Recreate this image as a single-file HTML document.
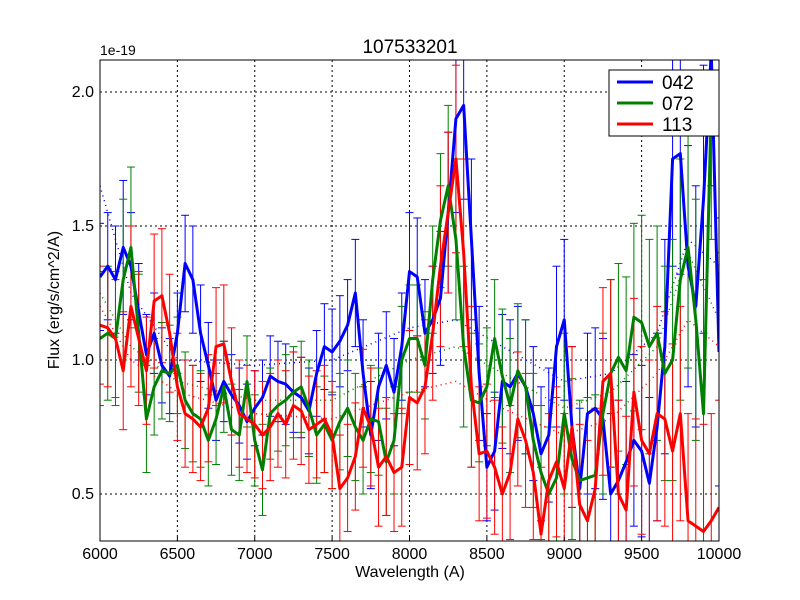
<!DOCTYPE html>
<html><head><meta charset="utf-8"><style>
html,body{margin:0;padding:0;width:800px;height:600px;background:#fff;font-family:"Liberation Sans","DejaVu Sans",sans-serif;overflow:hidden}
</style></head><body>
<svg id="chart" width="800" height="600" xmlns="http://www.w3.org/2000/svg" font-family="Liberation Sans, DejaVu Sans, sans-serif" style="display:block">
<rect width="800" height="600" fill="#fff"/>
<g id="grid"></g>
<g id="plot"></g>
<rect x="100" y="60" width="619" height="481" fill="none" stroke="#000" stroke-width="1"/>
<g id="ticks"></g>
<text x="410" y="53" font-size="19" text-anchor="middle">107533201</text>
<text x="100" y="55" font-size="14">1e-19</text>
<text x="410" y="577" font-size="16" text-anchor="middle">Wavelength (A)</text>
<text transform="translate(59,300) rotate(-90)" font-size="16" text-anchor="middle">Flux (erg/s/cm^2/A)</text>
<g>
<rect x="609" y="70" width="110" height="66" fill="#fff" stroke="#000"/>
<g><line x1="617" y1="82" x2="653" y2="82" stroke="#0000ff" stroke-width="3"/><text x="662" y="89" font-size="19">042</text></g>
<g><line x1="617" y1="103" x2="653" y2="103" stroke="#008000" stroke-width="3"/><text x="662" y="110" font-size="19">072</text></g>
<g><line x1="617" y1="124" x2="653" y2="124" stroke="#ff0000" stroke-width="3"/><text x="662" y="131" font-size="19">113</text></g>
</g>
</svg>
<script>
const xTicks=[6000,6500,7000,7500,8000,8500,9000,9500,10000];
const yTicks=[0.5,1.0,1.5,2.0];
const yTickLabels=["0.5","1.0","1.5","2.0"];
const s042=[1.31,1.35,1.30,1.42,1.35,1.18,1.02,1.10,0.98,0.94,1.10,1.36,1.30,1.10,0.98,0.85,0.92,0.87,0.83,0.77,0.82,0.86,0.94,0.92,0.91,0.88,0.86,0.81,0.95,1.05,1.03,1.07,1.13,1.25,0.95,0.72,0.90,0.98,0.88,1.05,1.33,1.31,1.10,1.15,1.23,1.55,1.90,1.95,1.45,0.95,0.60,0.66,0.92,0.90,0.95,0.90,0.80,0.65,0.72,1.05,1.15,0.75,0.52,0.80,0.82,0.78,0.50,0.55,0.62,0.70,0.66,0.54,0.75,1.05,1.75,1.77,1.35,1.20,1.60,2.15,1.03];
const s072=[1.08,1.10,1.08,1.30,1.42,1.10,0.78,0.90,0.96,0.95,0.98,0.85,0.80,0.78,0.70,0.78,0.90,0.74,0.72,0.92,0.70,0.59,0.80,0.83,0.85,0.88,0.90,0.82,0.72,0.76,0.70,0.77,0.82,0.75,0.70,0.78,0.77,0.62,0.70,1.00,1.08,1.08,0.98,1.30,1.52,1.65,1.45,1.05,0.85,0.84,0.90,1.08,0.94,0.83,0.96,0.90,0.70,0.58,0.50,0.56,0.80,0.63,0.55,0.56,0.57,0.80,0.95,1.01,0.96,1.16,1.14,1.05,1.10,0.95,1.00,1.30,1.42,1.15,0.80,1.95,1.90];
const s113=[1.13,1.12,1.08,0.96,1.20,1.08,0.96,1.22,1.24,1.10,0.90,0.80,0.78,0.75,0.82,1.05,1.06,0.92,0.80,0.78,0.76,0.72,0.75,0.80,0.76,0.83,0.81,0.74,0.76,0.78,0.72,0.52,0.56,0.64,0.82,0.75,0.60,0.64,0.58,0.60,0.86,0.84,0.90,1.10,1.35,1.55,1.75,1.40,0.90,0.65,0.66,0.60,0.50,0.58,0.78,0.70,0.58,0.35,0.55,0.62,0.52,0.75,0.46,0.40,0.52,0.92,0.95,0.50,0.44,0.88,0.70,0.65,0.80,0.78,0.66,0.80,0.40,0.38,0.36,0.40,0.45];
const e042=[0.2,0.2,0.2,0.25,0.2,0.18,0.15,0.15,0.14,0.14,0.15,0.18,0.2,0.18,0.16,0.15,0.15,0.15,0.14,0.14,0.14,0.14,0.15,0.15,0.15,0.15,0.15,0.16,0.16,0.16,0.16,0.17,0.17,0.2,0.2,0.2,0.2,0.2,0.2,0.2,0.22,0.22,0.2,0.2,0.25,0.3,0.35,0.35,0.3,0.25,0.2,0.22,0.25,0.25,0.25,0.25,0.25,0.25,0.25,0.3,0.3,0.3,0.3,0.3,0.3,0.3,0.3,0.3,0.3,0.32,0.32,0.32,0.35,0.4,0.4,0.45,0.45,0.45,0.5,0.5,0.5];
const e072=[0.25,0.25,0.25,0.3,0.3,0.22,0.2,0.18,0.18,0.18,0.18,0.18,0.18,0.18,0.17,0.17,0.17,0.17,0.17,0.17,0.17,0.17,0.17,0.17,0.17,0.17,0.17,0.18,0.18,0.18,0.18,0.18,0.18,0.2,0.2,0.2,0.2,0.2,0.2,0.2,0.2,0.2,0.2,0.2,0.25,0.3,0.3,0.3,0.25,0.22,0.22,0.22,0.25,0.25,0.25,0.25,0.25,0.25,0.25,0.3,0.3,0.3,0.3,0.3,0.3,0.3,0.35,0.35,0.35,0.35,0.4,0.4,0.4,0.4,0.45,0.45,0.45,0.45,0.5,0.5,0.5];
const e113=[0.22,0.22,0.22,0.22,0.3,0.25,0.2,0.25,0.25,0.22,0.2,0.2,0.2,0.2,0.2,0.22,0.22,0.2,0.2,0.2,0.2,0.2,0.2,0.2,0.2,0.2,0.2,0.2,0.2,0.2,0.2,0.2,0.2,0.2,0.22,0.22,0.22,0.22,0.22,0.22,0.25,0.25,0.25,0.25,0.3,0.3,0.35,0.35,0.3,0.25,0.25,0.25,0.25,0.25,0.25,0.25,0.25,0.25,0.25,0.28,0.28,0.3,0.3,0.3,0.3,0.35,0.35,0.35,0.35,0.35,0.35,0.35,0.4,0.4,0.4,0.4,0.4,0.4,0.4,0.4,0.4];
const mWave=[6000,6200,6500,7000,7500,8000,8300,8600,9000,9300,9600,9800,10000];
const m042=[1.65,1.25,1.0,0.98,1.0,1.12,1.15,1.05,0.92,0.95,1.1,1.45,1.35];
const m072=[1.25,1.05,0.92,0.85,0.85,1.0,1.05,0.95,0.82,0.88,1.05,1.4,1.15];
const m113=[1.20,1.0,0.88,0.8,0.78,0.88,0.92,0.82,0.72,0.78,0.95,1.15,1.05];

const NS='http://www.w3.org/2000/svg';
const X0=100,X1=719,Y0=60,Y1=541;
function xs(w){return X0+(w-6000)/4000*(X1-X0);}
function ys(v){return 628-v*268;}
function mk(tag,attrs,parent){const e=document.createElementNS(NS,tag);for(const k in attrs)e.setAttribute(k,attrs[k]);parent.appendChild(e);return e;}
const grid=document.getElementById('grid'),ticks=document.getElementById('ticks'),plot=document.getElementById('plot');
xTicks.forEach(t=>{const x=xs(t);
 if(t>6000&&t<10000){const g=mk('line',{x1:x,y1:Y0,x2:x,y2:Y1,stroke:'#000','stroke-dasharray':'2,3','stroke-width':1},grid);
 
 }
 const tl=mk('line',{x1:x,y1:Y1,x2:x,y2:Y1-4,stroke:'#000'},ticks);
 
 
 const tx=mk('text',{x:x,y:Y1+18,'font-size':16,'text-anchor':'middle'},ticks);tx.textContent=String(t);
 
 
});
yTicks.forEach((t,i)=>{const y=ys(t);
 const g=mk('line',{x1:X0,y1:y,x2:X1,y2:y,stroke:'#000','stroke-dasharray':'2,3','stroke-width':1},grid);
 
 
 const tx=mk('text',{x:X0-6,y:y+5,'font-size':16,'text-anchor':'end'},ticks);tx.textContent=yTickLabels[i];
 
 
});
const clip=mk('clipPath',{id:'cp'},mk('defs',{},plot));mk('rect',{x:X0,y:Y0,width:X1-X0,height:Y1-Y0},clip);
const area=mk('g',{'clip-path':'url(#cp)'},plot);
const series=[['042',s042,e042,m042,'#0000ff'],['072',s072,e072,m072,'#008000'],['113',s113,e113,m113,'#ff0000']];
series.forEach(([nm,v,e,m,c])=>{
 const n=v.length,step=4000/(n-1);
 const mp=mk('polyline',{points:mWave.map((w,i)=>xs(w)+','+ys(m[i])).join(' '),fill:'none',stroke:c,'stroke-width':1.5,'stroke-dasharray':'1,4'},area);
 
 
 const eg=mk('g',{stroke:c,'stroke-width':1},area);
 
 
 v.forEach((val,i)=>{const x=xs(6000+i*step),err=e[i]||0.2,yt=ys(val+err),yb=ys(val-err);
  mk('line',{x1:x,y1:yt,x2:x,y2:yb},eg);mk('line',{x1:x-4,y1:yt,x2:x+4,y2:yt},eg);mk('line',{x1:x-4,y1:yb,x2:x+4,y2:yb},eg);});
});
series.forEach(([nm,v,e,m,c])=>{
 const n=v.length,step=4000/(n-1);
 const p=mk('polyline',{points:v.map((val,i)=>xs(6000+i*step)+','+ys(val)).join(' '),fill:'none',stroke:c,'stroke-width':3,'stroke-linejoin':'round'},area);
 
 
});
</script>
</body></html>
